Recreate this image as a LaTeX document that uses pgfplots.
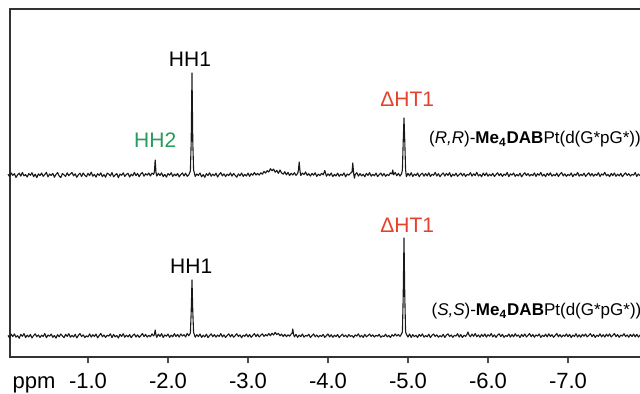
\documentclass[border=0pt]{standalone}
\usepackage{pgfplots}
\usepackage{pgfplotstable}
\pgfplotsset{compat=1.18}
\usepackage{fontspec}
\setmainfont{Liberation Sans}
\definecolor{hhgreen}{HTML}{2A9A5E}
\definecolor{htred}{HTML}{E5412D}
\definecolor{frame}{HTML}{333333}

\pgfplotstableread{
x y
0.00 182.8
-0.02 180.4
-0.04 184.1
-0.06 181.6
-0.08 183.3
-0.10 179.6
-0.12 182.2
-0.14 183.9
-0.16 180.9
-0.18 184.6
-0.20 181.1
-0.22 182.5
-0.24 180.0
-0.26 183.4
-0.28 181.7
-0.30 184.3
-0.32 180.3
-0.34 182.9
-0.36 179.4
-0.38 183.2
-0.40 181.4
-0.42 184.0
-0.44 180.7
-0.46 182.4
-0.48 184.7
-0.50 180.1
-0.52 183.0
-0.54 181.5
-0.56 183.7
-0.58 179.8
-0.60 182.6
-0.62 184.4
-0.64 181.0
-0.66 179.5
-0.68 183.5
-0.70 182.1
-0.72 180.6
-0.74 184.2
-0.76 181.3
-0.78 183.1
-0.80 184.5
-0.82 181.2
-0.84 183.2
-0.86 179.7
-0.88 182.3
-0.90 183.8
-0.92 180.5
-0.94 184.0
-0.96 181.8
-0.98 180.2
-1.00 183.6
-1.02 181.4
-1.04 184.8
-1.06 180.8
-1.08 182.7
-1.10 179.9
-1.12 183.3
-1.14 181.6
-1.16 184.1
-1.18 180.4
-1.20 182.4
-1.22 179.8
-1.24 183.9
-1.26 182.9
-1.28 181.0
-1.30 184.4
-1.32 180.2
-1.34 182.0
-1.36 183.5
-1.38 179.3
-1.40 183.0
-1.42 181.7
-1.44 184.2
-1.46 180.6
-1.48 182.6
-1.50 183.7
-1.52 180.0
-1.54 182.8
-1.56 181.1
-1.58 184.6
-1.60 181.4
-1.62 183.6
-1.64 180.3
-1.66 183.1
-1.68 184.5
-1.70 180.8
-1.72 183.3
-1.74 181.9
-1.76 184.0
-1.78 181.0
-1.80 183.9
-1.82 182.6
-1.83 185.0
-1.84 197.0
-1.85 184.5
-1.86 180.9
-1.88 183.7
-1.90 181.5
-1.92 184.2
-1.94 180.4
-1.96 182.7
-1.98 179.9
-2.00 183.4
-2.02 181.8
-2.04 184.3
-2.06 180.6
-2.08 182.9
-2.10 181.2
-2.12 183.6
-2.14 180.1
-2.16 182.5
-2.18 184.1
-2.20 181.0
-2.22 183.8
-2.24 180.7
-2.26 182.2
-2.28 186.0
-2.29 215
-2.30 284
-2.31 215
-2.32 187.0
-2.34 180.5
-2.36 183.0
-2.38 181.6
-2.40 184.0
-2.42 180.2
-2.44 182.4
-2.46 179.7
-2.48 183.3
-2.50 181.5
-2.52 184.2
-2.54 180.8
-2.56 182.9
-2.58 181.3
-2.60 183.8
-2.62 180.0
-2.64 182.6
-2.66 184.4
-2.68 181.1
-2.70 183.2
-2.72 180.5
-2.74 182.8
-2.76 181.4
-2.78 184.1
-2.80 180.9
-2.82 183.5
-2.84 181.7
-2.86 179.8
-2.88 183.1
-2.90 181.2
-2.92 184.0
-2.94 180.6
-2.96 182.7
-2.98 181.0
-3.00 183.9
-3.02 180.7
-3.04 183.4
-3.06 181.8
-3.08 184.5
-3.10 182.0
-3.12 183.6
-3.14 181.9
-3.16 184.2
-3.18 182.8
-3.20 185.6
-3.22 183.9
-3.24 186.4
-3.26 185.0
-3.28 188.3
-3.30 186.2
-3.32 187.9
-3.34 184.8
-3.36 186.6
-3.38 183.7
-3.40 187.0
-3.42 184.1
-3.44 182.9
-3.46 185.3
-3.48 182.2
-3.50 184.6
-3.52 181.4
-3.54 183.8
-3.56 182.0
-3.58 184.3
-3.60 181.6
-3.62 183.5
-3.63 186.5
-3.64 195.0
-3.65 186.0
-3.66 181.5
-3.68 184.0
-3.70 182.4
-3.72 185.1
-3.74 181.7
-3.76 183.3
-3.78 180.9
-3.80 183.6
-3.82 181.8
-3.84 184.2
-3.86 180.6
-3.88 182.9
-3.90 181.4
-3.92 183.7
-3.94 182.1
-3.96 186.5
-3.98 180.8
-4.00 183.2
-4.02 181.3
-4.04 184.0
-4.06 180.4
-4.08 182.6
-4.10 181.0
-4.12 183.9
-4.14 180.7
-4.16 182.8
-4.18 181.5
-4.20 184.1
-4.22 180.2
-4.24 183.0
-4.26 181.8
-4.28 183.7
-4.30 185.0
-4.31 194.0
-4.32 184.0
-4.33 178.8
-4.34 182.5
-4.36 184.3
-4.38 180.9
-4.40 183.4
-4.42 181.1
-4.44 182.8
-4.46 180.3
-4.48 183.6
-4.50 181.6
-4.52 184.4
-4.54 180.8
-4.56 182.7
-4.58 181.2
-4.60 183.9
-4.62 180.5
-4.64 182.3
-4.66 184.0
-4.68 181.0
-4.70 183.5
-4.72 180.7
-4.74 182.6
-4.76 181.4
-4.78 184.2
-4.80 183.0
-4.81 187.0
-4.82 182.2
-4.84 184.5
-4.86 181.3
-4.88 183.7
-4.90 180.9
-4.92 183.3
-4.93 187.0
-4.94 215
-4.95 239
-4.96 215
-4.97 187.0
-4.98 180.4
-5.00 183.6
-5.02 181.2
-5.04 184.3
-5.06 180.6
-5.08 182.9
-5.10 181.5
-5.12 184.0
-5.14 180.3
-5.16 182.7
-5.18 183.8
-5.20 180.8
-5.22 183.4
-5.24 181.1
-5.26 184.2
-5.28 180.5
-5.30 182.8
-5.32 181.7
-5.34 184.6
-5.36 181.0
-5.38 183.3
-5.40 180.4
-5.42 182.5
-5.44 184.1
-5.46 180.9
-5.48 183.6
-5.50 181.6
-5.52 184.3
-5.54 180.2
-5.56 182.9
-5.58 181.3
-5.60 183.8
-5.62 180.7
-5.64 182.4
-5.66 184.0
-5.68 181.1
-5.70 183.5
-5.72 180.6
-5.74 182.6
-5.76 181.8
-5.78 184.4
-5.80 180.9
-5.82 183.2
-5.84 181.5
-5.86 184.7
-5.88 181.0
-5.90 182.7
-5.92 180.3
-5.94 183.9
-5.96 181.4
-5.98 184.1
-6.00 180.8
-6.02 182.8
-6.04 181.2
-6.06 183.6
-6.08 180.5
-6.10 182.5
-6.12 184.2
-6.14 181.3
-6.16 183.4
-6.18 180.6
-6.20 182.9
-6.22 181.7
-6.24 184.5
-6.26 180.4
-6.28 183.1
-6.30 181.9
-6.32 184.0
-6.34 180.7
-6.36 182.6
-6.38 181.1
-6.40 183.8
-6.42 180.2
-6.44 182.4
-6.46 184.3
-6.48 181.5
-6.50 183.5
-6.52 180.9
-6.54 182.7
-6.56 181.4
-6.58 184.1
-6.60 180.6
-6.62 183.3
-6.64 181.8
-6.66 184.6
-6.68 181.0
-6.70 182.8
-6.72 180.4
-6.74 183.7
-6.76 181.6
-6.78 184.2
-6.80 180.8
-6.82 182.5
-6.84 181.2
-6.86 183.9
-6.88 180.5
-6.90 182.9
-6.92 184.4
-6.94 181.1
-6.96 183.2
-6.98 180.7
-7.00 182.6
-7.02 181.5
-7.04 184.0
-7.06 180.3
-7.08 183.0
-7.10 181.7
-7.12 184.5
-7.14 180.9
-7.16 182.7
-7.18 181.3
-7.20 183.8
-7.22 180.6
-7.24 182.4
-7.26 184.2
-7.28 181.0
-7.30 183.4
-7.32 180.8
-7.34 182.9
-7.36 181.6
-7.38 184.3
-7.40 180.5
-7.42 183.1
-7.44 181.9
-7.46 184.7
-7.48 181.2
-7.50 182.6
-7.52 180.4
-7.54 183.6
-7.56 181.4
-7.58 184.0
-7.60 180.7
-7.62 182.8
-7.64 181.1
-7.66 183.7
-7.68 180.3
-7.70 182.5
-7.72 184.1
-7.74 181.6
-7.76 183.3
-7.78 180.9
-7.80 182.7
-7.82 181.8
-7.84 184.4
-7.86 180.6
-7.88 183.0
-7.90 181.3
-7.92 184.2
-7.94 180.8
-7.96 182.9
-7.98 181.5
-8.00 183.8
-8.02 180.5
-8.04 182.4
-8.06 184.0
-8.08 181.2
-8.10 183.5
-8.12 180.7
-8.14 182.8
-8.16 181.6
}\topspec

\pgfplotstableread{
x y
0.00 21.6
-0.02 19.2
-0.04 22.8
-0.06 20.4
-0.08 23.1
-0.10 19.9
-0.12 21.3
-0.14 18.8
-0.16 22.5
-0.18 20.7
-0.20 23.4
-0.22 19.5
-0.24 21.9
-0.26 20.1
-0.28 22.6
-0.30 19.0
-0.32 21.4
-0.34 23.2
-0.36 20.3
-0.38 22.1
-0.40 19.6
-0.42 21.8
-0.44 20.5
-0.46 23.5
-0.48 19.3
-0.50 22.0
-0.52 20.8
-0.54 22.9
-0.56 19.7
-0.58 21.5
-0.60 18.9
-0.62 22.4
-0.64 20.2
-0.66 23.0
-0.68 21.1
-0.70 19.4
-0.72 22.7
-0.74 20.6
-0.76 23.3
-0.78 19.8
-0.80 21.7
-0.82 20.0
-0.84 22.8
-0.86 19.1
-0.88 21.6
-0.90 23.4
-0.92 20.4
-0.94 22.2
-0.96 19.5
-0.98 21.2
-1.00 20.1
-1.02 23.1
-1.04 19.9
-1.06 22.3
-1.08 20.6
-1.10 22.9
-1.12 19.2
-1.14 21.4
-1.16 23.6
-1.18 20.3
-1.20 22.0
-1.22 19.6
-1.24 21.8
-1.26 20.9
-1.28 23.2
-1.30 19.4
-1.32 22.5
-1.34 20.2
-1.36 21.5
-1.38 19.0
-1.40 22.7
-1.42 20.5
-1.44 23.3
-1.46 19.8
-1.48 21.9
-1.50 20.1
-1.52 22.4
-1.54 19.3
-1.56 21.6
-1.58 23.0
-1.60 20.0
-1.62 22.2
-1.64 19.7
-1.66 21.3
-1.68 23.5
-1.70 20.4
-1.72 22.6
-1.74 19.9
-1.76 21.7
-1.78 20.3
-1.80 23.2
-1.82 21.0
-1.83 22.5
-1.84 27.0
-1.85 22.0
-1.86 19.8
-1.88 22.9
-1.90 20.6
-1.92 23.4
-1.94 19.5
-1.96 22.1
-1.98 20.8
-2.00 23.0
-2.02 19.7
-2.04 21.9
-2.06 20.2
-2.08 23.3
-2.10 20.5
-2.12 22.6
-2.14 19.9
-2.16 23.1
-2.18 21.0
-2.20 22.4
-2.22 20.0
-2.24 23.6
-2.26 21.2
-2.28 24.0
-2.29 45
-2.30 77
-2.31 45
-2.32 24.5
-2.34 19.8
-2.36 22.3
-2.38 20.4
-2.40 23.0
-2.42 19.6
-2.44 21.8
-2.46 20.1
-2.48 22.9
-2.50 19.4
-2.52 21.5
-2.54 23.2
-2.56 20.3
-2.58 22.4
-2.60 19.9
-2.62 22.0
-2.64 20.6
-2.66 23.4
-2.68 20.0
-2.70 22.2
-2.72 19.5
-2.74 21.7
-2.76 23.1
-2.78 20.2
-2.80 22.6
-2.82 19.8
-2.84 21.4
-2.86 23.3
-2.88 20.5
-2.90 22.1
-2.92 19.3
-2.94 21.9
-2.96 20.7
-2.98 23.0
-3.00 20.1
-3.02 22.5
-3.04 19.7
-3.06 21.6
-3.08 23.4
-3.10 20.4
-3.12 22.8
-3.14 20.0
-3.16 21.8
-3.18 23.2
-3.20 20.6
-3.22 22.4
-3.24 21.1
-3.26 23.5
-3.28 21.3
-3.30 23.8
-3.32 22.0
-3.34 24.6
-3.36 22.4
-3.38 23.7
-3.40 21.2
-3.42 22.9
-3.44 20.5
-3.46 22.7
-3.48 20.3
-3.50 22.2
-3.52 20.8
-3.54 23.1
-3.55 23.5
-3.56 28.0
-3.57 22.5
-3.58 20.2
-3.60 22.6
-3.62 19.7
-3.64 21.9
-3.66 20.4
-3.68 23.0
-3.70 19.8
-3.72 21.6
-3.74 20.9
-3.76 22.8
-3.78 19.5
-3.80 21.3
-3.82 23.1
-3.84 20.2
-3.86 22.0
-3.88 19.9
-3.90 21.7
-3.92 20.5
-3.94 22.6
-3.96 19.6
-3.98 21.4
-4.00 23.0
-4.02 20.1
-4.04 22.3
-4.06 19.7
-4.08 21.8
-4.10 20.4
-4.12 22.5
-4.14 19.4
-4.16 21.2
-4.18 22.9
-4.20 20.3
-4.22 21.9
-4.24 19.8
-4.26 22.4
-4.28 20.6
-4.30 21.5
-4.32 19.5
-4.34 22.1
-4.36 20.9
-4.38 23.2
-4.40 20.0
-4.42 21.7
-4.44 19.6
-4.46 22.6
-4.48 20.2
-4.50 21.4
-4.52 23.0
-4.54 20.5
-4.56 22.2
-4.58 19.9
-4.60 21.8
-4.62 20.7
-4.64 22.7
-4.66 19.7
-4.68 21.3
-4.70 20.4
-4.72 22.9
-4.74 20.1
-4.76 21.6
-4.78 19.5
-4.80 22.3
-4.82 20.8
-4.84 23.1
-4.86 21.0
-4.88 22.5
-4.90 20.6
-4.92 23.2
-4.93 25.0
-4.94 60
-4.95 119
-4.96 60
-4.97 25.0
-4.98 22.8
-5.00 20.0
-5.02 23.0
-5.04 19.6
-5.06 22.4
-5.08 20.3
-5.10 21.8
-5.12 19.5
-5.14 22.6
-5.16 20.7
-5.18 23.1
-5.20 19.9
-5.22 21.5
-5.24 20.2
-5.26 22.8
-5.28 19.4
-5.30 21.7
-5.32 23.0
-5.34 20.5
-5.36 22.2
-5.38 19.8
-5.40 21.4
-5.42 20.1
-5.44 22.7
-5.46 19.6
-5.48 21.9
-5.50 23.2
-5.52 20.4
-5.54 22.0
-5.56 19.7
-5.58 21.6
-5.60 20.9
-5.62 23.3
-5.64 20.0
-5.66 22.5
-5.68 19.5
-5.70 21.8
-5.72 20.6
-5.74 23.0
-5.75 25.0
-5.76 22.4
-5.78 20.2
-5.80 22.9
-5.82 20.7
-5.84 23.4
-5.86 20.3
-5.88 22.1
-5.90 19.8
-5.92 22.6
-5.94 20.5
-5.96 23.1
-5.98 19.9
-6.00 22.3
-6.02 20.8
-6.04 23.5
-6.06 20.1
-6.08 22.2
-6.10 19.6
-6.12 21.9
-6.14 23.2
-6.16 20.4
-6.18 22.7
-6.20 19.7
-6.22 21.5
-6.24 20.6
-6.26 23.0
-6.28 19.9
-6.30 22.4
-6.32 20.2
-6.34 23.3
-6.36 20.8
-6.38 22.0
-6.40 19.5
-6.42 22.6
-6.44 20.5
-6.46 23.1
-6.48 20.0
-6.50 21.7
-6.52 23.4
-6.54 20.3
-6.56 22.5
-6.58 19.8
-6.60 22.1
-6.62 20.9
-6.64 23.0
-6.66 19.6
-6.68 21.8
-6.70 20.4
-6.72 22.8
-6.74 20.1
-6.76 23.2
-6.78 20.6
-6.80 22.3
-6.82 19.7
-6.84 21.6
-6.86 23.5
-6.88 20.2
-6.90 22.4
-6.92 19.9
-6.94 22.0
-6.96 20.7
-6.98 23.1
-7.00 20.3
-7.02 22.6
-7.04 19.5
-7.06 21.9
-7.08 20.5
-7.10 23.3
-7.12 20.0
-7.14 22.2
-7.16 19.8
-7.18 22.7
-7.20 20.8
-7.22 23.0
-7.24 20.1
-7.26 21.7
-7.28 23.4
-7.30 20.4
-7.32 22.5
-7.34 19.6
-7.36 21.8
-7.38 20.6
-7.40 23.2
-7.42 20.2
-7.44 22.3
-7.46 19.9
-7.48 22.8
-7.50 20.7
-7.52 23.1
-7.54 20.0
-7.56 21.6
-7.58 23.5
-7.60 20.3
-7.62 22.4
-7.64 19.7
-7.66 22.0
-7.68 20.9
-7.70 23.3
-7.72 20.4
-7.74 22.1
-7.76 19.8
-7.78 22.6
-7.80 20.5
-7.82 23.0
-7.84 20.1
-7.86 22.7
-7.88 19.9
-7.90 21.8
-7.92 23.2
-7.94 20.6
-7.96 22.3
-7.98 20.0
-8.00 22.9
-8.02 20.4
-8.04 23.1
-8.06 20.8
-8.08 22.2
-8.10 19.7
-8.12 21.9
-8.14 23.0
-8.16 20.5
}\botspec

\begin{document}
\begin{tikzpicture}
\begin{axis}[
  at={(5pt,18pt)}, anchor=south west,
  scale only axis, width=325pt, height=174pt,
  x dir=reverse, xmin=-8.15, xmax=-0.025, ymin=0, ymax=348,
  axis line style={line width=0.8pt, color=frame},
  xtick={-1,-2,-3,-4,-5,-6,-7},
  xticklabels={-1.0,-2.0,-3.0,-4.0,-5.0,-6.0,-7.0},
  xtick pos=bottom, ytick=\empty,
  tick align=outside, major tick length=3pt,
  tick style={line width=0.6pt, color=black!70},
  xticklabel style={font=\fontsize{11}{13}\selectfont, anchor=base, yshift=-12.5pt},
  clip=false,
]
\addplot[line width=0.55pt, color=black!90, line join=round] table[x=x,y=y] {\topspec};
\addplot[line width=0.55pt, color=black!90, line join=round] table[x=x,y=y] {\botspec};
\node[font=\fontsize{11}{13}\selectfont, anchor=base] at (axis cs:-0.325,0) [yshift=-15.5pt] {ppm};
\node[font=\fontsize{10.5}{12}\selectfont] at (axis cs:-2.275,298) {HH1};
\node[font=\fontsize{10.5}{12}\selectfont, text=hhgreen] at (axis cs:-1.84,217) {HH2};
\node[font=\fontsize{10.5}{12}\selectfont, text=htred] at (axis cs:-4.99,258) {ΔHT1};
\node[font=\fontsize{10.5}{12}\selectfont, text=htred] at (axis cs:-4.99,132) {ΔHT1};
\node[font=\fontsize{10.5}{12}\selectfont] at (axis cs:-2.29,91) {HH1};
\node[font=\fontsize{8.5}{10}\selectfont, anchor=west, inner sep=0pt] at (axis cs:-5.26,218) {(\textit{R,R})-\textbf{Me\textsubscript{4}DAB}Pt(d(G*pG*))};
\node[font=\fontsize{8.5}{10}\selectfont, anchor=west, inner sep=0pt] at (axis cs:-5.29,46) {(\textit{S,S})-\textbf{Me\textsubscript{4}DAB}Pt(d(G*pG*))};
\end{axis}
\pgfresetboundingbox
\useasboundingbox (0pt,0pt) rectangle (320pt,196.5pt);
\end{tikzpicture}
\end{document}
